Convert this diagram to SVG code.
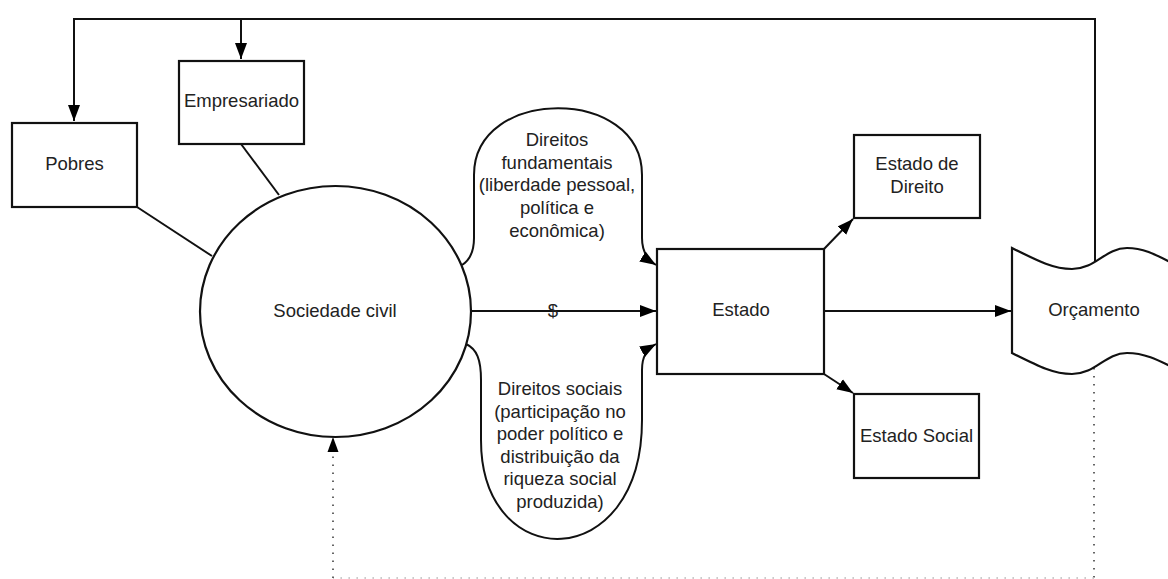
<svg xmlns="http://www.w3.org/2000/svg" width="1168" height="579" viewBox="0 0 1168 579">
<style>
.box{fill:#fff;stroke:#111;stroke-width:2.2}
.ln{fill:none;stroke:#111;stroke-width:2}
.dot{fill:none;stroke:#555;stroke-width:1.8;stroke-dasharray:1.6 6.4}
.dotf{fill:none;stroke:#bbb;stroke-width:1.5;stroke-dasharray:1.6 6.4}
text{font-family:"Liberation Sans",Arial,sans-serif;font-size:18.5px;fill:#222;text-anchor:middle}
</style>
<defs>
<marker id="ah" markerUnits="userSpaceOnUse" markerWidth="17" markerHeight="13" refX="16" refY="6.5" orient="auto">
<path d="M0,0.5 L16,6.5 L0,12.5 Z" fill="#000"/>
</marker>
</defs>
<rect width="1168" height="579" fill="#fff"/>
<g id="connectors">
<path class="ln" d="M1095,261 L1095,19 L74,19 L74,121" marker-end="url(#ah)"/>
<path class="ln" d="M241,19 L241,59" marker-end="url(#ah)"/>
<path class="ln" d="M137,207 L212,256"/>
<path class="ln" d="M241,144 L279,195"/>
<path class="ln" d="M471,311 L656,311" marker-end="url(#ah)"/>
<path class="ln" d="M462,265 C470,260 474,252 474,238 L474,175 C474,86 642,86 642,175 L642,238 C642,252 648,260 656,265" marker-end="url(#ah)"/>
<path class="ln" d="M466,344 C477,349 481,360 481,380 L481,440 C481,575 642,575 642,420 L642,370 C642,356 647,349 656,344" marker-end="url(#ah)"/>
<path class="ln" d="M824,249 L853,219" marker-end="url(#ah)"/>
<path class="ln" d="M824,374 L853,393" marker-end="url(#ah)"/>
<path class="ln" d="M824,311 L1011,311" marker-end="url(#ah)"/>
<path class="dot" d="M1094,368 L1094,578"/>
<path class="dotf" d="M1094,578 L333,578"/>
<path class="dot" d="M333,578 L333,452"/>
<path d="M333,437 L338.5,452 L327.5,452 Z" fill="#000"/>
<text x="553" y="317">$</text>
</g>
<g id="pobres">
<rect class="box" x="12" y="123" width="125" height="84"/>
<text x="74.5" y="170">Pobres</text>
</g>
<g id="empresariado">
<rect class="box" x="179" y="61" width="125" height="83"/>
<text x="241.5" y="106.5">Empresariado</text>
</g>
<g id="sociedade">
<ellipse class="box" cx="335.5" cy="311.5" rx="135.5" ry="125.5"/>
<text x="335" y="316.5">Sociedade civil</text>
</g>
<g id="direitos-fundamentais">
<text x="557" y="145.5">Direitos</text>
<text x="557" y="168.5">fundamentais</text>
<text x="557" y="190.5">(liberdade pessoal,</text>
<text x="557" y="213.5">política e</text>
<text x="557" y="236.5">econômica)</text>
</g>
<g id="direitos-sociais">
<text x="560" y="394.5">Direitos sociais</text>
<text x="560" y="418">(participação no</text>
<text x="560" y="439.5">poder político e</text>
<text x="560" y="462.5">distribuição da</text>
<text x="560" y="484.5">riqueza social</text>
<text x="560" y="507.5">produzida)</text>
</g>
<g id="estado">
<rect class="box" x="657" y="249" width="167" height="125"/>
<text x="741" y="316">Estado</text>
</g>
<g id="estado-direito">
<rect class="box" x="854" y="135" width="126" height="83"/>
<text x="917" y="169.5">Estado de</text>
<text x="917" y="192.5">Direito</text>
</g>
<g id="estado-social">
<rect class="box" x="854" y="394" width="125" height="84"/>
<text x="916.5" y="441.5">Estado Social</text>
</g>
<g id="orcamento">
<path class="box" d="M1012,248 C1040,262 1054,269 1072,269 C1096,269 1105,248 1127,248 C1145,248 1158,256 1178,266 L1178,370 C1158,360 1145,353 1127,353 C1105,353 1096,374 1072,374 C1054,374 1040,367 1012,353 Z"/>
<text x="1094" y="315.5">Orçamento</text>
</g>
</svg>
